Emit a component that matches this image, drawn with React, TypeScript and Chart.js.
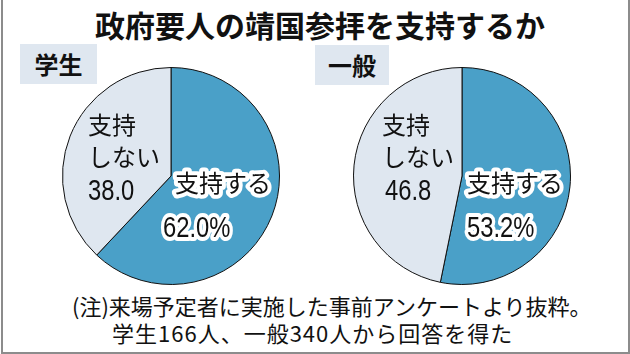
import React, { useEffect, useRef } from "react";
import { Chart, registerables } from "chart.js";

Chart.register(...registerables);

const TITLE = "政府要人の靖国参拝を支持するか";
const groups = ["学生", "一般"];
const categories = ["支持する", "支持しない"];
const supportValues = [62.0, 53.2];
const opposeValues = [38.0, 46.8];
const noteLines = [
  "(注)来場予定者に実施した事前アンケートより抜粋。",
  "学生166人、一般340人から回答を得た",
];

const BLUE = "#4aa0c8";
const LIGHT = "#dfe7f0";
const JP = '"Noto Sans CJK JP", "Noto Sans", sans-serif';
const NUM = '"Liberation Sans", Arial, sans-serif';

type LabelLayout = {
  oppX: number;
  oppNumX: number;
  supX: number;
  supNumX: number;
};

const layouts: LabelLayout[] = [
  { oppX: -83, oppNumX: -83, supX: 4, supNumX: -8 },
  { oppX: -80, oppNumX: -77, supX: 5, supNumX: 5 },
];

const piePos = [
  { left: 62, top: 67 },
  { left: 353, top: 67 },
];

function drawNum(ctx: CanvasRenderingContext2D, text: string, x: number, y: number, halo: boolean) {
  ctx.save();
  ctx.translate(x, y);
  ctx.scale(0.82, 1);
  ctx.font = `29px ${NUM}`;
  ctx.textAlign = "left";
  ctx.textBaseline = "middle";
  if (halo) {
    ctx.lineJoin = "round";
    ctx.strokeStyle = "#ffffff";
    ctx.lineWidth = 8;
    ctx.strokeText(text, 0, 0);
  }
  ctx.fillStyle = "#111";
  ctx.fillText(text, 0, 0);
  ctx.restore();
}

function drawJp(ctx: CanvasRenderingContext2D, text: string, x: number, y: number, halo: boolean) {
  ctx.save();
  ctx.font = `400 24px ${JP}`;
  ctx.textAlign = "left";
  ctx.textBaseline = "middle";
  if (halo) {
    ctx.lineJoin = "round";
    ctx.strokeStyle = "#ffffff";
    ctx.lineWidth = 8;
    ctx.strokeText(text, x, y);
  }
  ctx.fillStyle = "#111";
  ctx.fillText(text, x, y);
  ctx.restore();
}

function Pie({ idx }: { idx: number }) {
  const ref = useRef<HTMLCanvasElement | null>(null);
  useEffect(() => {
    if (!ref.current) return;
    const lay = layouts[idx];
    const labelPlugin = {
      id: "pieLabels",
      afterDraw(chart: any) {
        const arc = chart.getDatasetMeta(0).data[0];
        if (!arc) return;
        const cx = arc.x;
        const cy = arc.y;
        const ctx = chart.ctx as CanvasRenderingContext2D;
        const opp = categories[1];
        drawJp(ctx, opp.slice(0, 2), cx + lay.oppX, cy - 51, false);
        drawJp(ctx, opp.slice(2), cx + lay.oppX, cy - 19, false);
        drawNum(ctx, opposeValues[idx].toFixed(1), cx + lay.oppNumX, cy + 16, false);
        drawJp(ctx, categories[0], cx + lay.supX, cy + 7, true);
        drawNum(ctx, supportValues[idx].toFixed(1) + "%", cx + lay.supNumX, cy + 53, true);
      },
    };
    const chart = new Chart(ref.current, {
      type: "pie",
      data: {
        labels: categories,
        datasets: [
          {
            data: [supportValues[idx], opposeValues[idx]],
            backgroundColor: [BLUE, LIGHT],
            borderColor: "#111",
            borderWidth: 1,
            hoverOffset: 0,
          },
        ],
      },
      options: {
        animation: false,
        responsive: false,
        devicePixelRatio: 1,
        layout: { padding: 0 },
        rotation: 0,
        plugins: {
          legend: { display: false },
          tooltip: { enabled: false },
          title: { display: false },
        },
      },
      plugins: [labelPlugin],
    });
    return () => chart.destroy();
  }, [idx]);
  return (
    <canvas
      ref={ref}
      width={218}
      height={218}
      style={{ position: "absolute", left: piePos[idx].left, top: piePos[idx].top, width: 218, height: 218 }}
    />
  );
}

const boxPos = [
  { left: 20, top: 44, width: 77, height: 40 },
  { left: 315, top: 45, width: 74, height: 40 },
];

export default function App() {
  return (
    <div
      style={{
        position: "fixed",
        left: 0,
        top: 0,
        width: 630,
        height: 354,
        background: "#fff",
        overflow: "hidden",
        fontFamily: JP,
        color: "#111",
      }}
    >
      <div
        style={{
          position: "absolute",
          left: 1,
          top: -4,
          width: 629,
          height: 358,
          boxSizing: "border-box",
          borderLeft: "2px solid #8c8c8c",
          borderRight: "2px solid #8c8c8c",
          borderBottom: "2px solid #8c8c8c",
        }}
      />
      <div
        style={{
          position: "absolute",
          left: 5,
          top: 6,
          width: 630,
          height: 36,
          lineHeight: "36px",
          textAlign: "center",
          fontSize: 30,
          fontWeight: 700,
          whiteSpace: "nowrap",
        }}
      >
        {TITLE}
      </div>
      {groups.map((g, i) => (
        <div
          key={g}
          style={{
            position: "absolute",
            ...boxPos[i],
            background: LIGHT,
            fontSize: 24,
            fontWeight: 700,
            lineHeight: boxPos[i].height + "px",
            textAlign: "center",
          }}
        >
          {g}
        </div>
      ))}
      <Pie idx={0} />
      <Pie idx={1} />
      <div
        style={{
          position: "absolute",
          left: 72,
          top: 292,
          fontSize: 22,
          lineHeight: "26px",
          whiteSpace: "nowrap",
        }}
      >
        {noteLines[0]}
      </div>
      <div
        style={{
          position: "absolute",
          left: 112,
          top: 319,
          fontSize: 22,
          lineHeight: "26px",
          letterSpacing: 1,
          whiteSpace: "nowrap",
        }}
      >
        {noteLines[1]}
      </div>
    </div>
  );
}
